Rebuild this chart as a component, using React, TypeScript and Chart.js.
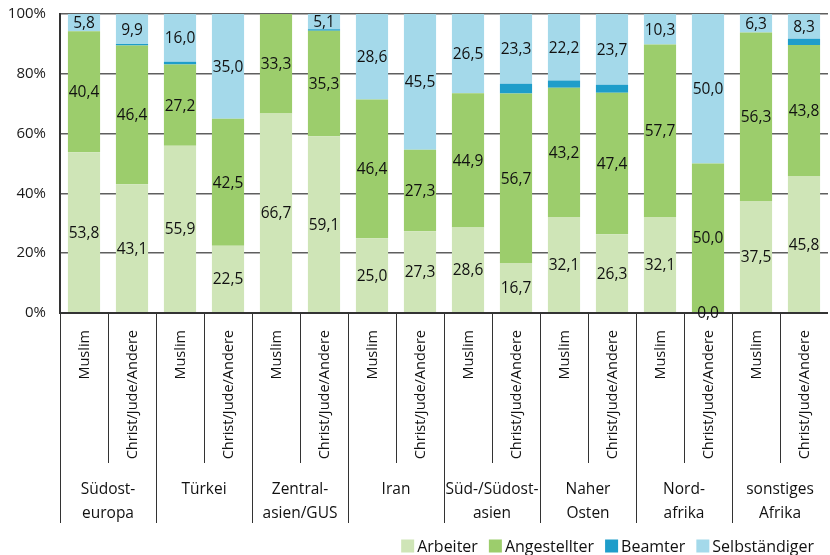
import React, { useEffect, useRef } from "react";
import { Chart, registerables } from "chart.js";

Chart.register(...registerables);

const subLabels = [
  "Muslim", "Christ/Jude/Andere", "Muslim", "Christ/Jude/Andere",
  "Muslim", "Christ/Jude/Andere", "Muslim", "Christ/Jude/Andere",
  "Muslim", "Christ/Jude/Andere", "Muslim", "Christ/Jude/Andere",
  "Muslim", "Christ/Jude/Andere", "Muslim", "Christ/Jude/Andere",
];
const groupLabels = [
  ["Südost-", "europa"],
  ["Türkei"],
  ["Zentral-", "asien/GUS"],
  ["Iran"],
  ["Süd-/Südost-", "asien"],
  ["Naher", "Osten"],
  ["Nord-", "afrika"],
  ["sonstiges", "Afrika"],
];
const arbeiter = [53.8, 43.1, 55.9, 22.5, 66.7, 59.1, 25.0, 27.3, 28.6, 16.7, 32.1, 26.3, 32.1, 0.0, 37.5, 45.8];
const angestellter = [40.4, 46.4, 27.2, 42.5, 33.3, 35.3, 46.4, 27.3, 44.9, 56.7, 43.2, 47.4, 57.7, 50.0, 56.3, 43.8];
const beamter = [0, 0.5, 0.9, 0, 0, 0.5, 0, 0, 0, 3.3, 2.5, 2.6, 0, 0, 0, 2.1];
const selbstaendiger = [5.8, 9.9, 16.0, 35.0, null, 5.1, 28.6, 45.5, 26.5, 23.3, 22.2, 23.7, 10.3, 50.0, 6.3, 8.3];
const yTicks = [0, 20, 40, 60, 80, 100];

const seriesNames = ["Arbeiter", "Angestellter", "Beamter", "Selbständiger"];
const seriesColors = ["#cfe5b7", "#9ccd6c", "#1e9dca", "#a4d9ea"];
const labelledSeries = [0, 1, 3];

const FONT = "'Open Sans', 'DejaVu Sans', sans-serif";

const axisPlugin = {
  id: "customAxis",
  afterDatasetsDraw(chart: any) {
    const ctx = chart.ctx;
    const xs = chart.scales.x;
    const ys = chart.scales.y;
    const area = chart.chartArea;
    const n = subLabels.length;
    const cw = (xs.getPixelForValue(1) - xs.getPixelForValue(0));
    const yAxis = area.bottom;

    ctx.save();
    // y tick labels
    ctx.fillStyle = "#1a1a1a";
    ctx.font = `15px ${FONT}`;
    ctx.textAlign = "right";
    ctx.textBaseline = "middle";
    yTicks.forEach((v) => {
      ctx.fillText(`${v}%`, area.left - 14, ys.getPixelForValue(v));
    });

    // separators
    ctx.strokeStyle = "#333";
    ctx.lineWidth = 1;
    for (let i = 0; i < n; i++) {
      const x = Math.round(xs.getPixelForValue(i) - cw / 2) + 0.5;
      const end = i % 2 === 0 ? 523 : 463;
      ctx.beginPath();
      ctx.moveTo(x, yAxis);
      ctx.lineTo(x, end);
      ctx.stroke();
    }
    // x axis line
    ctx.strokeStyle = "#333";
    ctx.lineWidth = 2;
    ctx.beginPath();
    ctx.moveTo(area.left - 1, yAxis);
    ctx.lineTo(area.right, yAxis);
    ctx.stroke();

    // rotated sub labels
    ctx.fillStyle = "#111";
    ctx.font = `14.5px ${FONT}`;
    for (let i = 0; i < n; i++) {
      const cx = xs.getPixelForValue(i);
      ctx.save();
      ctx.translate(cx + 1, 330);
      ctx.rotate(-Math.PI / 2);
      ctx.textAlign = "right";
      ctx.textBaseline = "middle";
      ctx.fillText(subLabels[i], 0, 0);
      ctx.restore();
    }
    // group labels
    ctx.font = `15.5px ${FONT}`;
    ctx.textAlign = "center";
    ctx.textBaseline = "middle";
    groupLabels.forEach((lines, g) => {
      const cx = (xs.getPixelForValue(2 * g) + xs.getPixelForValue(2 * g + 1)) / 2;
      lines.forEach((t, k) => {
        ctx.fillText(t, cx, 490 + k * 24);
      });
    });

    // data labels
    ctx.font = `15.5px ${FONT}`;
    ctx.fillStyle = "#111";
    labelledSeries.forEach((di) => {
      const meta = chart.getDatasetMeta(di);
      const data = chart.data.datasets[di].data;
      meta.data.forEach((el: any, i: number) => {
        const v = data[i];
        if (v === null || v === undefined) return;
        const cy = (el.y + el.base) / 2;
        ctx.fillText(Number(v).toFixed(1).replace(".", ","), el.x, cy + 1);
      });
    });

    // legend
    ctx.font = `16px ${FONT}`;
    ctx.textAlign = "left";
    ctx.textBaseline = "middle";
    const sw = 13, gapIn = 3, gapOut = 11;
    const widths = seriesNames.map((s) => ctx.measureText(s).width);
    let total = 0;
    widths.forEach((w, i) => {
      total += sw + gapIn + w + (i < widths.length - 1 ? gapOut : 0);
    });
    let x = 814 - total;
    const ly = 546;
    seriesNames.forEach((s, i) => {
      ctx.fillStyle = seriesColors[i];
      ctx.fillRect(x, ly - sw / 2, sw, sw);
      ctx.fillStyle = "#111";
      ctx.fillText(s, x + sw + gapIn, ly + 1);
      x += sw + gapIn + widths[i] + gapOut;
    });
    ctx.restore();
  },
};

export default function App() {
  const ref = useRef<HTMLCanvasElement | null>(null);
  useEffect(() => {
    document.body.style.margin = "0";
    if (!ref.current) return;
    const values = [arbeiter, angestellter, beamter, selbstaendiger];
    const chart = new Chart(ref.current, {
      type: "bar",
      data: {
        labels: subLabels.map((s, i) => `${i}`),
        datasets: seriesNames.map((name, i) => ({
          label: name,
          data: values[i] as any,
          backgroundColor: seriesColors[i],
          borderWidth: 0,
          categoryPercentage: 1,
          barPercentage: 0.67,
        })),
      },
      options: {
        responsive: false,
        animation: false,
        layout: { padding: { left: 0, top: 14, right: 2, bottom: 242 } },
        plugins: { legend: { display: false }, tooltip: { enabled: false } },
        scales: {
          x: { stacked: true, display: false },
          y: {
            stacked: true,
            min: 0,
            max: 100,
            afterBuildTicks: (s: any) => {
              s.ticks = yTicks.map((v) => ({ value: v }));
            },
            afterFit: (s: any) => {
              s.width = 60;
            },
            ticks: { display: false },
            grid: { color: "#5f5f5f", lineWidth: 1.5, drawTicks: false },
            border: { display: true, color: "#333", width: 2 },
          },
        },
      },
      plugins: [axisPlugin],
    });
    return () => chart.destroy();
  }, []);
  return (
    <div style={{ width: 830, height: 555 }}>
      <canvas ref={ref} width={830} height={555} />
    </div>
  );
}
